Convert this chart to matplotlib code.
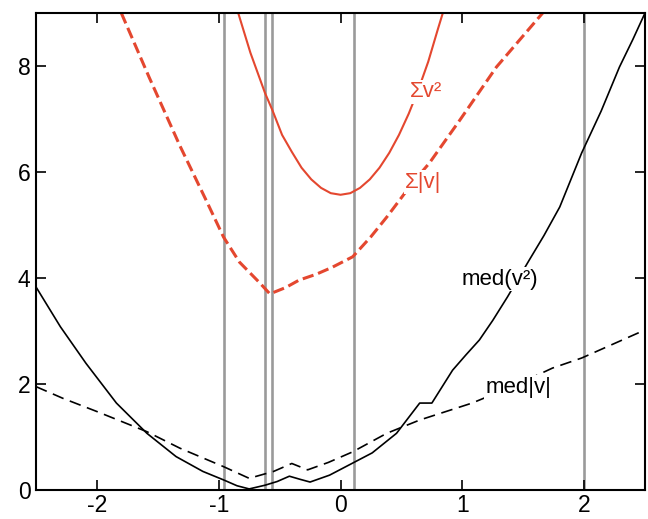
import matplotlib
matplotlib.use("Agg")
import matplotlib.pyplot as plt

plt.rcParams['font.family'] = ['Liberation Sans', 'DejaVu Sans']

# vertical marker lines
vlines_x = [-0.96, -0.62, -0.56, 0.11, 2.0]

# sum of v^2 (red solid)
sum_sq_x = [-0.84, -0.74, -0.62, -0.56, -0.48, -0.40, -0.32, -0.24, -0.16, -0.08,
            0.0, 0.08, 0.16, 0.24, 0.32, 0.40, 0.48, 0.56, 0.64, 0.72, 0.80, 0.84]
sum_sq_y = [9.0, 8.25, 7.49, 7.17, 6.70, 6.38, 6.08, 5.86, 5.70, 5.60,
            5.57, 5.60, 5.70, 5.86, 6.08, 6.36, 6.70, 7.10, 7.56, 8.08, 8.70, 9.0]

# sum of |v| (red dashed)
sum_abs_x = [-1.80, -1.57, -1.32, -1.10, -0.96, -0.83, -0.66, -0.58, -0.45, -0.34,
             -0.20, -0.07, 0.10, 0.25, 0.38, 0.59, 0.73, 0.98, 1.28, 1.66]
sum_abs_y = [9.0, 7.78, 6.50, 5.45, 4.77, 4.30, 3.90, 3.70, 3.82, 3.96,
             4.07, 4.20, 4.40, 4.78, 5.15, 5.79, 6.17, 6.98, 7.98, 9.0]

# median of v^2 (black solid)
med_sq_x = [-2.5, -2.30, -2.09, -1.84, -1.59, -1.35, -1.13, -0.96, -0.85, -0.75,
            -0.62, -0.52, -0.42, -0.33, -0.25, -0.09, 0.11, 0.26, 0.46, 0.65,
            0.75, 0.92, 1.03, 1.14, 1.25, 1.37, 1.55, 1.67, 1.80, 1.98, 2.14,
            2.29, 2.40, 2.5]
med_sq_y = [3.83, 3.08, 2.39, 1.64, 1.07, 0.63, 0.35, 0.19, 0.08, 0.02,
            0.09, 0.16, 0.26, 0.20, 0.15, 0.28, 0.52, 0.70, 1.07, 1.64,
            1.64, 2.26, 2.55, 2.83, 3.20, 3.64, 4.34, 4.80, 5.34, 6.36, 7.15,
            7.98, 8.50, 9.0]

# median of |v| (black dashed)
med_abs_x = [-2.5, -2.28, -2.0, -1.73, -1.59, -1.32, -0.96, -0.75, -0.55, -0.40,
             -0.27, -0.10, 0.10, 0.38, 0.65, 1.08, 1.46, 1.74, 1.98, 2.5]
med_abs_y = [1.95, 1.73, 1.48, 1.23, 1.10, 0.79, 0.44, 0.22, 0.35, 0.50,
             0.38, 0.52, 0.72, 1.07, 1.32, 1.64, 2.00, 2.30, 2.49, 3.02]

labels = ['Σv²', 'Σ|v|', 'med(v²)', 'med|v|']
label_x = [0.70, 0.68, 1.31, 1.46]
label_y = [7.51, 5.81, 3.98, 1.94]
label_col = ['#e4472f', '#e4472f', 'black', 'black']

red = '#e4472f'

fig = plt.figure(figsize=(6.48, 5.19), dpi=100)
ax = fig.add_axes([0.0556, 0.0559, 0.9398, 0.9191])

for xv in vlines_x:
    ax.axvline(xv, color='#9a9a9a', lw=1.9, zorder=1)

ax.plot(sum_sq_x, sum_sq_y, '-', color=red, lw=1.5, zorder=2)
ax.plot(sum_abs_x, sum_abs_y, '--', color=red, lw=2.2, zorder=2)
ax.plot(med_sq_x, med_sq_y, '-', color='black', lw=1.2, zorder=2)
ax.plot(med_abs_x, med_abs_y, '--', color='black', lw=1.2, dashes=(7, 4), zorder=2)

for t, tx, ty, c in zip(labels, label_x, label_y, label_col):
    ax.text(tx, ty, t, color=c, fontsize=16, ha='center', va='center', zorder=3,
            bbox=dict(facecolor='white', edgecolor='none', pad=1))

ax.set_xlim(-2.5, 2.5)
ax.set_ylim(0, 9)
ax.set_xticks([-2, -1, 0, 1, 2])
ax.set_xticklabels(['-2', '-1', '0', '1', '2'])
ax.set_yticks([0, 2, 4, 6, 8])
ax.tick_params(direction='in', length=7, width=1.2, labelsize=16.5,
               top=True, right=True)
ax.tick_params(axis='x', pad=3)
ax.tick_params(axis='y', pad=4)
for s in ax.spines.values():
    s.set_linewidth(1.5)

fig.savefig('out.png', dpi=100)
